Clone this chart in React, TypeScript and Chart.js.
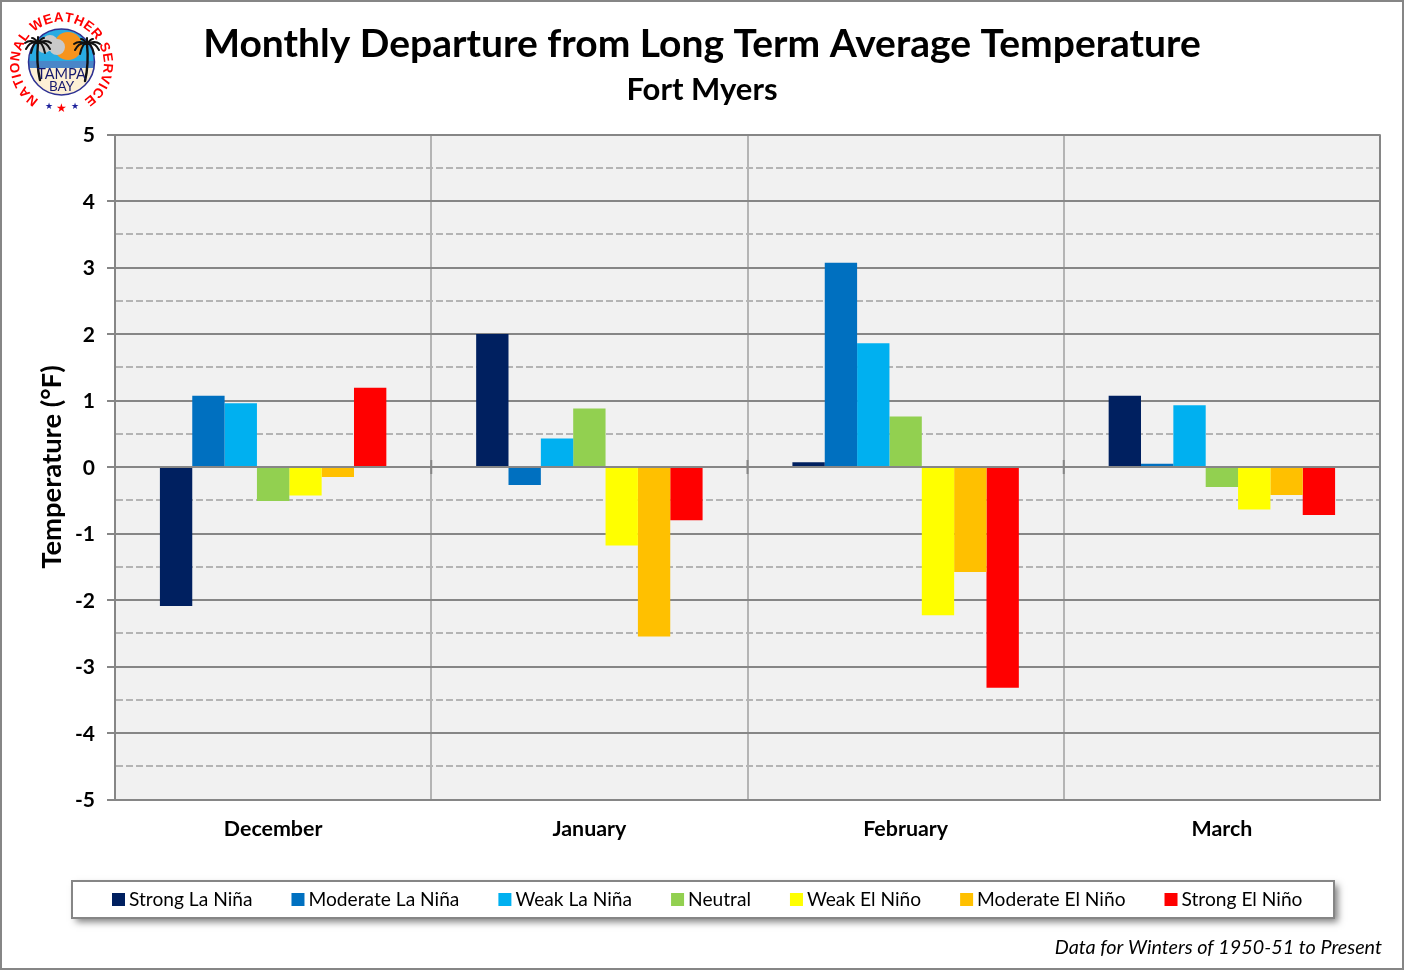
import { useEffect, useRef } from 'react';
import { Chart, registerables } from 'chart.js';

Chart.register(...registerables);

const FONT = 'Lato';
const AXIS_DARK = '#868686';
const AXIS_LIGHT = '#b4b4b4';

const months = ['December', 'January', 'February', 'March'];
const strongLaNina = [-2.09, 2.0, 0.07, 1.07];
const moderateLaNina = [1.07, -0.27, 3.07, 0.05];
const weakLaNina = [0.96, 0.43, 1.86, 0.93];
const neutral = [-0.51, 0.88, 0.76, -0.3];
const weakElNino = [-0.43, -1.18, -2.23, -0.64];
const moderateElNino = [-0.15, -2.55, -1.58, -0.42];
const strongElNino = [1.19, -0.8, -3.32, -0.72];

const seriesNames = ['Strong La Niña', 'Moderate La Niña', 'Weak La Niña', 'Neutral', 'Weak El Niño', 'Moderate El Niño', 'Strong El Niño'];
const seriesValues = [strongLaNina, moderateLaNina, weakLaNina, neutral, weakElNino, moderateElNino, strongElNino];
const seriesColors = ['#002060', '#0070C0', '#00B0F0', '#92D050', '#FFFF00', '#FFC000', '#FF0000'];

// page frame and plot background
const backdrop = {
	id: 'backdrop',
	beforeDraw(chart: any) {
		const { ctx, chartArea: a, width, height } = chart;
		ctx.save();
		ctx.fillStyle = '#fff';
		ctx.fillRect(0, 0, width, height);
		ctx.fillStyle = '#f1f1f1';
		ctx.fillRect(a.left, a.top, a.right - a.left, a.bottom - a.top);
		ctx.restore();
	},
};

// zero line sits above the bars, with small ticks at the month boundaries
const zeroLine = {
	id: 'zeroLine',
	afterDatasetsDraw(chart: any) {
		const { ctx, chartArea: a, scales } = chart;
		const y0 = scales.y.getPixelForValue(0);
		ctx.save();
		ctx.strokeStyle = AXIS_DARK;
		ctx.lineWidth = 2;
		ctx.beginPath();
		ctx.moveTo(a.left, y0);
		ctx.lineTo(a.right, y0);
		const step = (a.right - a.left) / months.length;
		for (let i = 1; i < months.length; i++) {
			ctx.moveTo(a.left + step * i, y0 - 7);
			ctx.lineTo(a.left + step * i, y0 + 7);
		}
		ctx.moveTo(a.right, a.top);
		ctx.lineTo(a.right, a.bottom);
		ctx.stroke();
		ctx.restore();
	},
};

const legendBox = {
	id: 'legendBox',
	afterDraw(chart: any) {
		const { ctx, width, height } = chart;
		ctx.save();
		ctx.strokeStyle = AXIS_DARK;
		ctx.lineWidth = 2;
		ctx.strokeRect(1, 1, width - 2, height - 2);

		// legend frame with its drop shadow
		ctx.save();
		ctx.shadowColor = 'rgba(0,0,0,0.5)';
		ctx.shadowBlur = 7;
		ctx.shadowOffsetX = 4;
		ctx.shadowOffsetY = 4;
		ctx.fillStyle = '#fff';
		ctx.fillRect(72, 881, 1262, 37);
		ctx.restore();
		ctx.strokeRect(72, 881, 1262, 37);

		ctx.font = `19.18px ${FONT}`;
		ctx.textBaseline = 'middle';
		ctx.textAlign = 'left';
		let x = 112;
		chart.data.datasets.forEach((ds: any) => {
			ctx.fillStyle = ds.backgroundColor;
			ctx.fillRect(x, 893, 13, 13);
			ctx.fillStyle = '#000';
			ctx.fillText(ds.label, x + 17, 900);
			x += 17 + ctx.measureText(ds.label).width + 39;
		});

		ctx.font = `italic 19.8px ${FONT}`;
		ctx.textAlign = 'right';
		ctx.fillStyle = '#000';
		ctx.fillText('Data for Winters of 1950-51 to Present', 1382, 948);
		ctx.restore();
	},
};

// rough redraw of the office logo
const logo = {
	id: 'logo',
	afterDraw(chart: any) {
		const { ctx } = chart;
		const cx = 61.5;
		const cy = 62;
		const r = 33;
		ctx.save();
		ctx.beginPath();
		ctx.arc(cx, cy, r, 0, Math.PI * 2);
		ctx.clip();
		ctx.fillStyle = '#29abe2';
		ctx.fillRect(cx - r, cy - r, r * 2, r * 2);
		ctx.fillStyle = '#fdf0d5';
		ctx.fillRect(cx - r, cy + 6, r * 2, r);
		ctx.fillStyle = '#4a86c8';
		ctx.fillRect(cx - r, cy - 1, r * 2, 7);
		ctx.fillStyle = '#f7941d';
		ctx.beginPath();
		ctx.arc(68, 46, 14, 0, Math.PI * 2);
		ctx.fill();
		ctx.fillStyle = '#c9c9c9';
		ctx.beginPath();
		ctx.arc(44, 46, 7, 0, Math.PI * 2);
		ctx.arc(50, 43, 8, 0, Math.PI * 2);
		ctx.arc(57, 47, 8, 0, Math.PI * 2);
		ctx.fill();
		ctx.restore();

		ctx.save();
		ctx.strokeStyle = '#2e3192';
		ctx.lineWidth = 1.5;
		ctx.beginPath();
		ctx.arc(cx, cy, r, 0, Math.PI * 2);
		ctx.stroke();

		// ring lettering, spaced by glyph width
		const ring = 'NATIONAL WEATHER SERVICE';
		ctx.textAlign = 'center';
		ctx.textBaseline = 'middle';
		ctx.fillStyle = '#ff0000';
		ctx.font = 'bold 13.5px "Liberation Sans"';
		const widths = ring.split('').map((c) => ctx.measureText(c).width + 1);
		const total = widths.reduce((s, w) => s + w, 0);
		const sweep = (296 * Math.PI) / 180;
		let ang = (-148 * Math.PI) / 180;
		ring.split('').forEach((c, i) => {
			const mid = ang + (sweep * widths[i]) / total / 2;
			ctx.save();
			ctx.translate(cx + Math.sin(mid) * 46, 64 - Math.cos(mid) * 46);
			ctx.rotate(mid);
			ctx.fillText(c, 0, 0);
			ctx.restore();
			ang += (sweep * widths[i]) / total;
		});

		// palms, over the inner circle
		ctx.strokeStyle = '#111';
		ctx.lineCap = 'round';
		[[38, 43, 1], [87, 44, -1]].forEach(([px, py, dir]) => {
			ctx.lineWidth = 2.4;
			ctx.beginPath();
			ctx.moveTo(px, py);
			ctx.quadraticCurveTo(px - dir * 2, py + 20, px + dir * 2, py + 37);
			ctx.stroke();
			ctx.lineWidth = 2;
			[[-13, 0], [-12, 6], [-7, 10], [-6, -5], [0, -6], [6, -5], [7, 10], [12, 6], [13, 0]].forEach(([dx, dy]) => {
				ctx.beginPath();
				ctx.moveTo(px, py);
				ctx.quadraticCurveTo(px + dx * 0.6, py + dy * 0.2 - 4, px + dx, py + dy);
				ctx.stroke();
			});
		});

		ctx.fillStyle = '#16196e';
		ctx.font = `14.5px ${FONT}`;
		ctx.fillText('TAMPA', cx, 74);
		ctx.font = `13.5px ${FONT}`;
		ctx.fillText('BAY', cx, 87);

		ctx.font = `9px ${FONT}`;
		ctx.fillStyle = '#1b1f9a';
		ctx.fillText('★', 48.5, 106);
		ctx.fillText('★', 74.5, 106);
		ctx.font = `12px ${FONT}`;
		ctx.fillStyle = '#ff0000';
		ctx.fillText('★', 61, 108);
		ctx.restore();
	},
};

export default function App() {
	const chartRef = useRef<HTMLCanvasElement>(null);

	useEffect(() => {
		document.body.style.margin = '0';
		if (!chartRef.current) return;
		const chart = new Chart(chartRef.current, {
			type: 'bar',
			data: {
				labels: months,
				datasets: seriesNames.map((name, i) => ({
					label: name,
					data: seriesValues[i],
					backgroundColor: seriesColors[i],
					borderWidth: 0,
					barPercentage: 1,
					categoryPercentage: 0.716,
				})),
			},
			options: {
				animation: false,
				responsive: false,
				devicePixelRatio: 1,
				layout: { padding: { top: 0, left: 24, right: 24, bottom: 110.5 } },
				plugins: {
					legend: { display: false },
					tooltip: { enabled: false },
					title: {
						display: true,
						text: 'Monthly Departure from Long Term Average Temperature',
						color: '#000',
						font: { family: FONT, size: 39, weight: 'bold', lineHeight: 1.2 },
						padding: { top: 21, bottom: 4 },
					},
					subtitle: {
						display: true,
						text: 'Fort Myers',
						color: '#000',
						font: { family: FONT, size: 31, weight: 'bold', lineHeight: 1.2 },
						padding: { top: 0, bottom: 25.5 },
					},
				},
				scales: {
					x: {
						afterFit: (scale: any) => { scale.height = 60; },
						grid: { color: AXIS_LIGHT, lineWidth: 2, drawTicks: false },
						border: { color: AXIS_DARK, width: 2 },
						ticks: {
							color: '#000',
							padding: 17,
							maxRotation: 0,
							font: { family: FONT, size: 21.4, weight: 'bold' },
						},
					},
					y: {
						min: -5,
						max: 5,
						afterFit: (scale: any) => { scale.width = 91; },
						title: {
							display: true,
							text: 'Temperature (°F)',
							color: '#000',
							font: { family: FONT, size: 27.4, weight: 'bold' },
							padding: { top: 12, bottom: 0 },
						},
						border: {
							color: AXIS_DARK,
							width: 2,
							dash: (c: any) => (Number.isInteger(c.tick?.value) ? [] : [7, 3]),
						},
						grid: {
							color: (c: any) => (Number.isInteger(c.tick?.value) ? AXIS_DARK : AXIS_LIGHT),
							tickColor: (c: any) => (Number.isInteger(c.tick?.value) ? AXIS_DARK : 'rgba(0,0,0,0)'),
							lineWidth: 2,
							tickLength: 8,
						},
						ticks: {
							stepSize: 0.5,
							autoSkip: false,
							color: '#000',
							padding: 12,
							labelOffset: 1,
							font: { family: FONT, size: 21, weight: 'bold' },
							callback: (v: any) => (Number.isInteger(v) ? String(v) : ''),
						},
					},
				},
			},
			plugins: [backdrop, zeroLine, legendBox, logo],
		} as any);
		return () => chart.destroy();
	}, []);

	return <canvas ref={chartRef} width={1404} height={970} style={{ display: 'block' }}></canvas>;
}
